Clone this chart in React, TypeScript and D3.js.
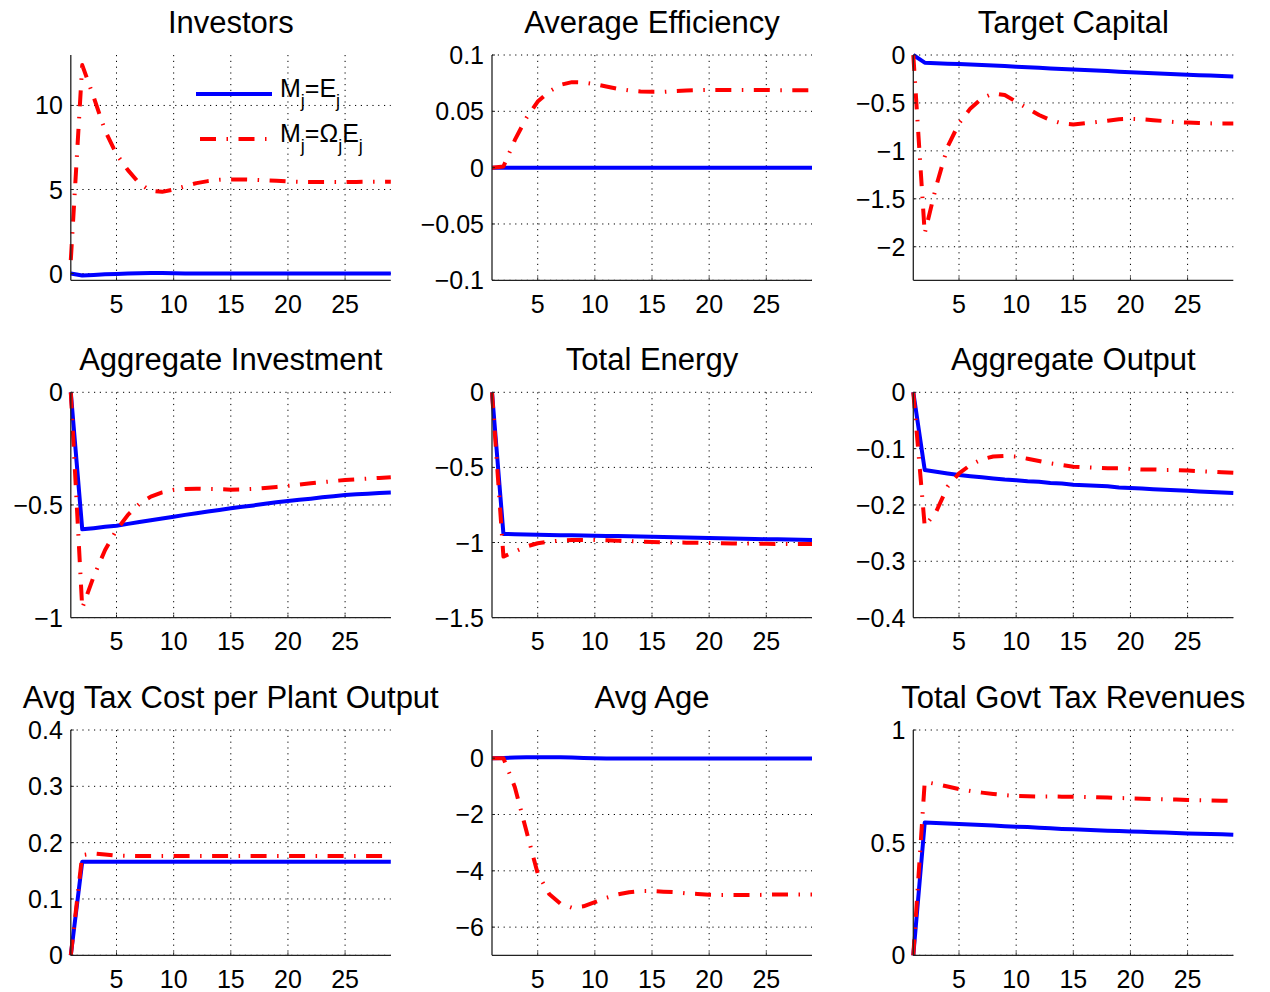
import React from "react";
import * as d3 from "d3";

const periods = d3.range(1, 30);
const xTicks = [5, 10, 15, 20, 25];

const titles = [
  "Investors", "Average Efficiency", "Target Capital",
  "Aggregate Investment", "Total Energy", "Aggregate Output",
  "Avg Tax Cost per Plant Output", "Avg Age", "Total Govt Tax Revenues",
];

const yDomains: [number, number][] = [
  [-0.4, 13], [-0.1, 0.1], [-2.35, 0],
  [-1, 0], [-1.5, 0], [-0.4, 0],
  [0, 0.4], [-7, 1], [0, 1],
];

const yTicks: number[][] = [
  [0, 5, 10], [-0.1, -0.05, 0, 0.05, 0.1], [-2, -1.5, -1, -0.5, 0],
  [-1, -0.5, 0], [-1.5, -1, -0.5, 0], [-0.4, -0.3, -0.2, -0.1, 0],
  [0, 0.1, 0.2, 0.3, 0.4], [-6, -4, -2, 0], [0, 0.5, 1],
];

// Series: blue = M_j = E_j, red = M_j = Omega_j E_j
const investorsBlue = [0, -0.12, -0.08, -0.04, -0.02, 0, 0.02, 0.03, 0.03, 0.02, 0.01, 0, 0, 0, 0, 0, 0, 0, 0, 0, 0, 0, 0, 0, 0, 0, 0, 0, 0];
const investorsRed = [0.8, 12.4, 10.5, 8.5, 7.1, 6.15, 5.36, 4.92, 4.86, 5.0, 5.2, 5.38, 5.5, 5.58, 5.6, 5.6, 5.58, 5.55, 5.52, 5.48, 5.46, 5.45, 5.45, 5.45, 5.45, 5.45, 5.46, 5.46, 5.46];

const efficiencyBlue = [0, 0, 0, 0, 0, 0, 0, 0, 0, 0, 0, 0, 0, 0, 0, 0, 0, 0, 0, 0, 0, 0, 0, 0, 0, 0, 0, 0, 0];
const efficiencyRed = [0, 0.001, 0.0246, 0.044, 0.0587, 0.0676, 0.0735, 0.0759, 0.0756, 0.0741, 0.072, 0.07, 0.0685, 0.0676, 0.0673, 0.0673, 0.068, 0.0685, 0.0688, 0.069, 0.069, 0.069, 0.069, 0.069, 0.069, 0.0688, 0.0688, 0.0688, 0.0688];

const capitalBlue = [0, -0.08, -0.085, -0.09, -0.095, -0.1, -0.105, -0.11, -0.115, -0.122, -0.128, -0.134, -0.14, -0.145, -0.15, -0.156, -0.162, -0.168, -0.174, -0.18, -0.185, -0.19, -0.195, -0.2, -0.205, -0.21, -0.215, -0.22, -0.225];
const capitalRed = [0, -1.86, -1.37, -0.957, -0.713, -0.557, -0.452, -0.4, -0.417, -0.487, -0.557, -0.626, -0.678, -0.713, -0.724, -0.713, -0.7, -0.685, -0.67, -0.665, -0.67, -0.68, -0.69, -0.7, -0.705, -0.71, -0.713, -0.715, -0.715];

const investmentBlue = [0, -0.608, -0.603, -0.597, -0.592, -0.584, -0.576, -0.568, -0.56, -0.552, -0.544, -0.537, -0.529, -0.522, -0.515, -0.508, -0.502, -0.495, -0.488, -0.482, -0.477, -0.472, -0.466, -0.461, -0.456, -0.453, -0.45, -0.447, -0.445];
const investmentRed = [0, -0.958, -0.818, -0.7, -0.611, -0.544, -0.495, -0.463, -0.444, -0.433, -0.429, -0.428, -0.429, -0.43, -0.432, -0.431, -0.429, -0.425, -0.42, -0.415, -0.41, -0.404, -0.399, -0.394, -0.389, -0.386, -0.383, -0.38, -0.377];

const energyBlue = [0, -0.943, -0.945, -0.947, -0.949, -0.95, -0.951, -0.952, -0.954, -0.955, -0.956, -0.957, -0.959, -0.96, -0.962, -0.963, -0.965, -0.966, -0.968, -0.97, -0.972, -0.973, -0.975, -0.976, -0.978, -0.979, -0.98, -0.982, -0.983];
const energyRed = [0, -1.094, -1.06, -1.027, -1.005, -0.994, -0.987, -0.983, -0.983, -0.983, -0.985, -0.988, -0.991, -0.994, -0.997, -0.999, -1.0, -1.001, -1.002, -1.004, -1.005, -1.006, -1.007, -1.008, -1.009, -1.01, -1.01, -1.01, -1.01];

const outputBlue = [0, -0.138, -0.141, -0.144, -0.147, -0.149, -0.151, -0.153, -0.155, -0.156, -0.158, -0.159, -0.161, -0.162, -0.164, -0.165, -0.166, -0.167, -0.169, -0.17, -0.171, -0.172, -0.173, -0.174, -0.175, -0.176, -0.177, -0.178, -0.179];
const outputRed = [0, -0.238, -0.212, -0.1675, -0.144, -0.129, -0.119, -0.114, -0.113, -0.114, -0.118, -0.122, -0.126, -0.129, -0.132, -0.133, -0.134, -0.135, -0.135, -0.136, -0.137, -0.137, -0.138, -0.138, -0.139, -0.14, -0.141, -0.142, -0.143];

const taxCostBlue = [0, 0.166, 0.166, 0.166, 0.166, 0.166, 0.166, 0.166, 0.166, 0.166, 0.166, 0.166, 0.166, 0.166, 0.166, 0.166, 0.166, 0.166, 0.166, 0.166, 0.166, 0.166, 0.166, 0.166, 0.166, 0.166, 0.166, 0.166, 0.166];
const taxCostRed = [0, 0.178, 0.181, 0.179, 0.177, 0.1765, 0.1763, 0.1763, 0.1763, 0.1763, 0.1763, 0.1763, 0.1763, 0.1763, 0.1763, 0.1763, 0.1763, 0.1763, 0.1763, 0.1763, 0.1763, 0.1763, 0.1763, 0.1763, 0.1763, 0.1763, 0.1763, 0.1763, 0.1763];

const ageBlue = [0, 0.01, 0.02, 0.03, 0.03, 0.03, 0.03, 0.02, 0.01, 0, -0.01, -0.01, -0.01, -0.01, -0.01, -0.01, -0.01, -0.01, -0.01, -0.01, -0.01, -0.01, -0.01, -0.01, -0.01, -0.01, -0.01, -0.01, -0.01];
const ageRed = [0, 0, -1.03, -2.57, -4.1, -4.82, -5.17, -5.31, -5.26, -5.11, -4.96, -4.84, -4.76, -4.72, -4.72, -4.74, -4.76, -4.8, -4.82, -4.85, -4.86, -4.86, -4.86, -4.86, -4.85, -4.84, -4.84, -4.84, -4.84];

const revenueBlue = [0, 0.589, 0.587, 0.585, 0.583, 0.581, 0.578, 0.576, 0.573, 0.571, 0.569, 0.566, 0.564, 0.561, 0.559, 0.557, 0.555, 0.553, 0.552, 0.55, 0.548, 0.546, 0.545, 0.543, 0.541, 0.54, 0.538, 0.537, 0.535];
const revenueRed = [0, 0.77, 0.76, 0.749, 0.738, 0.729, 0.722, 0.716, 0.711, 0.707, 0.706, 0.705, 0.705, 0.704, 0.704, 0.703, 0.701, 0.7, 0.698, 0.697, 0.695, 0.694, 0.692, 0.691, 0.689, 0.688, 0.687, 0.686, 0.685];

const blueSeries = [investorsBlue, efficiencyBlue, capitalBlue, investmentBlue, energyBlue, outputBlue, taxCostBlue, ageBlue, revenueBlue];
const redSeries = [investorsRed, efficiencyRed, capitalRed, investmentRed, energyRed, outputRed, taxCostRed, ageRed, revenueRed];

const colLefts = [70.8, 492, 913.3];
const rowTops = [55, 392.3, 730];
const W = 320;
const H = 225.3;
const FONT = "'Liberation Sans', Arial, Helvetica, sans-serif";
const RED_DASH = "16 10.5 1.5 10.5";

function fmt(v: number) {
  const s = String(Math.abs(v));
  return v < 0 ? "\u2212" + s : s;
}

function Panel({ idx }: { idx: number }) {
  const L = colLefts[idx % 3];
  const T = rowTops[Math.floor(idx / 3)];
  const x = d3.scaleLinear().domain([1, 29]).range([L, L + W]);
  const y = d3.scaleLinear().domain(yDomains[idx]).range([T + H, T]);
  const line = d3.line<number>().x((_, i) => x(periods[i])).y((d) => y(d));
  const bottom = T + H;
  return (
    <g>
      <text x={L + W / 2} y={T - 22} textAnchor="middle" fontSize={31} fontFamily={FONT} fill="#000">
        {titles[idx]}
      </text>
      {xTicks.map((t) => (
        <line key={"gx" + t} x1={x(t)} x2={x(t)} y1={T} y2={bottom} stroke="#000" strokeWidth={1} strokeDasharray="1.2 4.6" />
      ))}
      {yTicks[idx].map((t) => (
        <line key={"gy" + t} x1={L} x2={L + W} y1={y(t)} y2={y(t)} stroke="#000" strokeWidth={1} strokeDasharray="1.2 4.6" />
      ))}
      <path d={line(blueSeries[idx]) || ""} fill="none" stroke="#0000ff" strokeWidth={4} strokeLinejoin="round" />
      <path d={line(redSeries[idx]) || ""} fill="none" stroke="#ff0000" strokeWidth={4} strokeDasharray={RED_DASH} strokeLinejoin="round" />
      <line x1={L} x2={L} y1={T} y2={bottom} stroke="#222" strokeWidth={1.3} />
      <line x1={L} x2={L + W} y1={bottom} y2={bottom} stroke="#222" strokeWidth={1.3} />
      {xTicks.map((t) => (
        <g key={"xt" + t}>
          <line x1={x(t)} x2={x(t)} y1={bottom} y2={bottom - 3} stroke="#222" strokeWidth={1} />
          <text x={x(t)} y={bottom + 32.5} textAnchor="middle" fontSize={25} fontFamily={FONT} fill="#000">
            {t}
          </text>
        </g>
      ))}
      {yTicks[idx].map((t) => (
        <g key={"yt" + t}>
          <line x1={L} x2={L + 3} y1={y(t)} y2={y(t)} stroke="#222" strokeWidth={1} />
          <text x={L - 8} y={y(t)} dy="0.36em" textAnchor="end" fontSize={25} fontFamily={FONT} fill="#000">
            {fmt(t)}
          </text>
        </g>
      ))}
    </g>
  );
}

function Legend() {
  const lx1 = 196, lx2 = 272, tx = 280;
  const y1 = 94, y2 = 139;
  return (
    <g fontFamily={FONT} fill="#000">
      <line x1={lx1} x2={lx2} y1={y1} y2={y1} stroke="#0000ff" strokeWidth={4} />
      <text x={tx} y={y1 + 3} fontSize={25}>
        M<tspan fontSize={18} dy={10}>j</tspan>
        <tspan dy={-10}>=E</tspan>
        <tspan fontSize={18} dy={10}>j</tspan>
      </text>
      <line x1={lx1} x2={lx2} y1={y2} y2={y2} stroke="#ff0000" strokeWidth={4} strokeDasharray={RED_DASH} strokeDashoffset={-4} />
      <text x={tx} y={y2 + 3} fontSize={25}>
        M<tspan fontSize={18} dy={10}>j</tspan>
        <tspan dy={-10}>=Ω</tspan>
        <tspan fontSize={18} dy={10}>j</tspan>
        <tspan dy={-10}>E</tspan>
        <tspan fontSize={18} dy={10}>j</tspan>
      </text>
    </g>
  );
}

export default function App() {
  return (
    <svg width={1270} height={992} style={{ position: "absolute", left: 0, top: 0, background: "#fff" }}>
      <rect width={1270} height={992} fill="#fff" />
      {titles.map((_, i) => (
        <Panel key={i} idx={i} />
      ))}
      <Legend />
    </svg>
  );
}
